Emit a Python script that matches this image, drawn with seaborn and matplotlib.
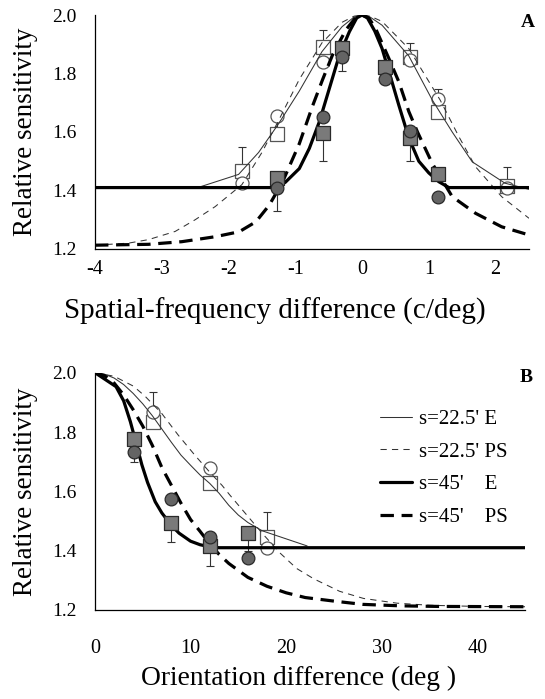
import numpy as np
import pandas as pd
import matplotlib
matplotlib.use("Agg")
import matplotlib.pyplot as plt
import seaborn as sns
from matplotlib.ticker import MultipleLocator, FormatStrFormatter

sns.set_style("white")
plt.rcParams['font.family'] = ['Liberation Serif', 'DejaVu Serif']
plt.rcParams['axes.unicode_minus'] = False
plt.rcParams['text.color'] = 'black'
plt.rcParams['axes.labelcolor'] = 'black'
plt.rcParams['xtick.color'] = 'black'
plt.rcParams['ytick.color'] = 'black'
plt.rcParams['axes.edgecolor'] = 'black'

# ---------------- Panel A: spatial-frequency difference ----------------
a_open_x = [-1.80, -1.27, -0.58, 0.72, 1.14, 2.17]
a_open_sq = [1.467, 1.593, 1.890, 1.858, 1.669, 1.416]
a_open_ci = [1.427, 1.656, 1.838, 1.846, 1.712, 1.408]
a_fill_x = [-1.27, -0.58, -0.30, 0.34, 0.72, 1.14]
a_fill_sq = [1.442, 1.596, 1.886, 1.823, 1.578, 1.456]
a_fill_ci = [1.408, 1.652, 1.855, 1.781, 1.605, 1.379]

# error bars (x, y, lower, upper)
a_err_x = [-1.80, -1.27, -1.27, -0.58, -0.58, -0.30, 0.72, 0.72, 1.14, 2.17]
a_err_y = [1.467, 1.656, 1.408, 1.890, 1.596, 1.855, 1.858, 1.578, 1.712, 1.416]
a_err_lo = [0.0, 0.05, 0.078, 0.0, 0.096, 0.045, 0.0, 0.078, 0.0, 0.0]
a_err_hi = [0.083, 0.0, 0.0, 0.059, 0.0, 0.0, 0.045, 0.0, 0.035, 0.065]

# fitted curves
a_thin_e_x = [-4.0, -2.46, -1.85, -1.55, -1.26, -0.94, -0.60, -0.30, -0.12, 0.0,
              0.12, 0.30, 0.70, 1.05, 1.35, 1.65, 2.14, 2.5]
a_thin_e_y = [1.41, 1.41, 1.455, 1.53, 1.625, 1.74, 1.875, 1.96, 1.993, 2.0,
              1.993, 1.965, 1.86, 1.71, 1.60, 1.498, 1.425, 1.404]
a_thin_ps_x = [-4.0, -3.5, -3.2, -2.8, -2.5, -2.2, -1.8, -1.5, -1.26, -0.94, -0.60,
               -0.30, -0.12, 0.0, 0.12, 0.30, 0.70, 1.17, 1.45, 1.70, 2.09, 2.5]
a_thin_ps_y = [1.213, 1.22, 1.232, 1.26, 1.30, 1.345, 1.42, 1.53, 1.635, 1.78, 1.905,
               1.975, 1.996, 2.0, 1.996, 1.978, 1.885, 1.709, 1.584, 1.481, 1.379, 1.305]
a_thick_e_x = [-4.0, -1.30, -1.15, -0.94, -0.79, -0.64, -0.49, -0.34, -0.19, -0.08, 0.0,
               0.08, 0.19, 0.30, 0.45, 0.55, 0.70, 0.85, 1.00, 1.15, 1.30, 2.5]
a_thick_e_y = [1.41, 1.41, 1.428, 1.475, 1.544, 1.635, 1.749, 1.863, 1.943, 1.99, 2.0,
               1.99, 1.945, 1.885, 1.77, 1.692, 1.58, 1.50, 1.46, 1.43, 1.41, 1.41]
a_thick_ps_x = [-4.0, -3.2, -2.7, -2.2, -1.84, -1.59, -1.39, -1.19, -0.94, -0.84, -0.74,
                -0.59, -0.44, -0.24, -0.10, 0.0, 0.10, 0.20, 0.40, 0.55, 0.70, 0.83,
                1.05, 1.35, 1.70, 2.09, 2.5]
a_thick_ps_y = [1.213, 1.216, 1.225, 1.242, 1.259, 1.293, 1.35, 1.43, 1.56, 1.625, 1.69,
                1.78, 1.865, 1.95, 1.99, 2.0, 1.99, 1.955, 1.852, 1.772, 1.67, 1.60,
                1.493, 1.379, 1.322, 1.276, 1.248]

# ---------------- Panel B: orientation difference ----------------
b_open_x = [6.1, 12.0, 18.0]
b_open_sq = [1.835, 1.629, 1.447]
b_open_ci = [1.868, 1.678, 1.408]
b_fill_x = [4.1, 8.0, 12.0, 16.0]
b_fill_sq = [1.775, 1.492, 1.417, 1.459]
b_fill_ci = [1.734, 1.574, 1.447, 1.374]

b_err_x = [6.1, 12.0, 4.1, 8.0, 12.0, 16.0, 18.0]
b_err_y = [1.868, 1.678, 1.734, 1.492, 1.417, 1.459, 1.447]
b_err_lo = [0.0, 0.0, 0.034, 0.064, 0.069, 0.06, 0.0]
b_err_hi = [0.066, 0.014, 0.0, 0.0, 0.0, 0.0, 0.084]

b_thin_e_x = [0, 1, 2, 3, 4, 5, 6, 7, 8, 9, 10, 11, 12, 13, 14, 15, 16, 17.5, 22.2]
b_thin_e_y = [2.0, 1.995, 1.982, 1.96, 1.93, 1.895, 1.855, 1.81, 1.765, 1.722, 1.688,
              1.655, 1.627, 1.593, 1.553, 1.52, 1.495, 1.467, 1.416]
b_thin_ps_x = [0, 2, 4, 5.2, 7, 8.7, 10.5, 12, 13.3, 14.1, 16.2, 17.6, 19.4, 21.1, 22.9,
               25.6, 28.1, 31.6, 35, 40, 45]
b_thin_ps_y = [2.0, 1.988, 1.955, 1.922, 1.862, 1.79, 1.72, 1.665, 1.62, 1.588, 1.508,
               1.455, 1.391, 1.34, 1.305, 1.263, 1.239, 1.223, 1.216, 1.212, 1.211]
b_thick_e_x = [0, 2.2, 3.0, 3.7, 4.36, 4.9, 5.5, 6.3, 7.0, 8.0, 8.8, 10.0, 11.0, 12.2, 13.0, 45]
b_thick_e_y = [2.0, 1.953, 1.905, 1.835, 1.756, 1.69, 1.63, 1.565, 1.527, 1.485, 1.459,
               1.432, 1.42, 1.412, 1.41, 1.41]
b_thick_ps_x = [0, 1, 2, 3, 4, 5, 6, 7, 8, 9, 10, 11, 12, 13, 14, 16, 18, 20, 22, 25, 28,
                32, 36, 45]
b_thick_ps_y = [2.0, 1.99, 1.965, 1.925, 1.875, 1.82, 1.755, 1.68, 1.62, 1.56, 1.505,
                1.465, 1.423, 1.387, 1.357, 1.31, 1.28, 1.258, 1.242, 1.23, 1.219, 1.214,
                1.212, 1.211]

legend_labels = ["s=22.5' E", "s=22.5' PS", "s=45'    E", "s=45'    PS"]

# ---------------- styling ----------------
W, H = 545, 699
fig = plt.figure(figsize=(W / 100, H / 100), dpi=100)
axA = fig.add_axes([95 / W, 1 - 249 / H, (529 - 95) / W, (249 - 15) / H])
axB = fig.add_axes([95 / W, 1 - 610 / H, (525 - 95) / W, (610 - 372.7) / H])

thin = dict(color='#333333', lw=0.75)
thick = dict(color='black', lw=2.3)
thin_dash = (0, (6.0, 5.0))
thick_dash = (0, (4.2, 2.4))

open_sq = dict(marker='s', s=92, facecolors='white', edgecolors='#555555', linewidth=0.9, zorder=3)
open_ci = dict(marker='o', s=88, facecolors='white', edgecolors='#555555', linewidth=0.9, zorder=3)
fill_sq = dict(marker='s', s=88, facecolors='#7a7a7a', edgecolors='#2a2a2a', linewidth=0.9, zorder=6)
fill_ci = dict(marker='o', s=84, facecolors='#646464', edgecolors='#2a2a2a', linewidth=0.9, zorder=6)


def draw_panel(ax, curves, open_x, osq, oci, fill_x, fsq, fci, ex, ey, elo, ehi, labels=None):
    ax.errorbar(ex, ey, yerr=[elo, ehi], fmt='none', ecolor='#333333', elinewidth=0.8,
                capsize=3, capthick=0.8, zorder=2)
    sns.scatterplot(x=open_x, y=osq, ax=ax, legend=False, **open_sq)
    sns.scatterplot(x=open_x, y=oci, ax=ax, legend=False, **open_ci)
    styles = [(thin, '-'), (thin, thin_dash), (thick, '-'), (thick, thick_dash)]
    for i, ((cx, cy), (st, ls)) in enumerate(zip(curves, styles)):
        kw = dict(st)
        if labels is not None:
            kw['label'] = labels[i]
        sns.lineplot(x=cx, y=cy, ax=ax, linestyle=ls, sort=False, estimator=None,
                     zorder=4, **kw)
    sns.scatterplot(x=fill_x, y=fsq, ax=ax, legend=False, **fill_sq)
    sns.scatterplot(x=fill_x, y=fci, ax=ax, legend=False, **fill_ci)
    ax.set_ylim(1.2, 2.0)
    ax.yaxis.set_major_locator(MultipleLocator(0.2))
    ax.yaxis.set_minor_locator(MultipleLocator(0.1))
    ax.yaxis.set_major_formatter(FormatStrFormatter('%.1f'))
    ax.tick_params(which='both', direction='in', length=5, width=0.8)
    ax.tick_params(axis='y', which='major', labelsize=14, pad=13)
    ax.set_ylabel('Relative sensitivity', fontsize=19.5)
    for s in ['top', 'right']:
        ax.spines[s].set_visible(False)
    for s in ['left', 'bottom']:
        ax.spines[s].set_linewidth(0.9)
    ax.set_facecolor('white')


draw_panel(axA,
           [(a_thin_e_x, a_thin_e_y), (a_thin_ps_x, a_thin_ps_y),
            (a_thick_e_x, a_thick_e_y), (a_thick_ps_x, a_thick_ps_y)],
           a_open_x, a_open_sq, a_open_ci, a_fill_x, a_fill_sq, a_fill_ci,
           a_err_x, a_err_y, a_err_lo, a_err_hi)
axA.set_xlim(-4, 2.5)
axA.xaxis.set_major_locator(MultipleLocator(1))
axA.xaxis.set_minor_locator(MultipleLocator(0.5))
axA.xaxis.set_major_formatter(FormatStrFormatter('%d'))
axA.tick_params(axis='x', which='major', labelsize=14.5, pad=8)
axA.set_xlabel('Spatial-frequency difference (c/deg)', fontsize=21)
axA.xaxis.set_label_coords(0.415, -0.21)
axA.yaxis.set_label_coords(-0.132, 0.5)
axA.text(0.998, 0.966, 'A', transform=axA.transAxes, ha='center', va='center',
         fontsize=14, fontweight='bold')

draw_panel(axB,
           [(b_thin_e_x, b_thin_e_y), (b_thin_ps_x, b_thin_ps_y),
            (b_thick_e_x, b_thick_e_y), (b_thick_ps_x, b_thick_ps_y)],
           b_open_x, b_open_sq, b_open_ci, b_fill_x, b_fill_sq, b_fill_ci,
           b_err_x, b_err_y, b_err_lo, b_err_hi, labels=legend_labels)
axB.set_xlim(0, 45)
axB.xaxis.set_major_locator(MultipleLocator(10))
axB.xaxis.set_minor_locator(MultipleLocator(5))
axB.xaxis.set_major_formatter(FormatStrFormatter('%d'))
axB.tick_params(axis='x', which='major', labelsize=14.5, pad=21)
axB.set_xlabel('Orientation difference (deg )', fontsize=19.8)
axB.xaxis.set_label_coords(0.474, -0.235)
axB.yaxis.set_label_coords(-0.132, 0.5)
axB.text(1.003, 0.98, 'B', transform=axB.transAxes, ha='center', va='center',
         fontsize=14, fontweight='bold')
axB.legend(loc='upper left', bbox_to_anchor=(0.663, 0.846), frameon=False,
           fontsize=15, handlelength=1.55, handletextpad=0.3, labelspacing=0.63,
           borderpad=0, borderaxespad=0)

fig.savefig('out.png', dpi=100, facecolor='white')
